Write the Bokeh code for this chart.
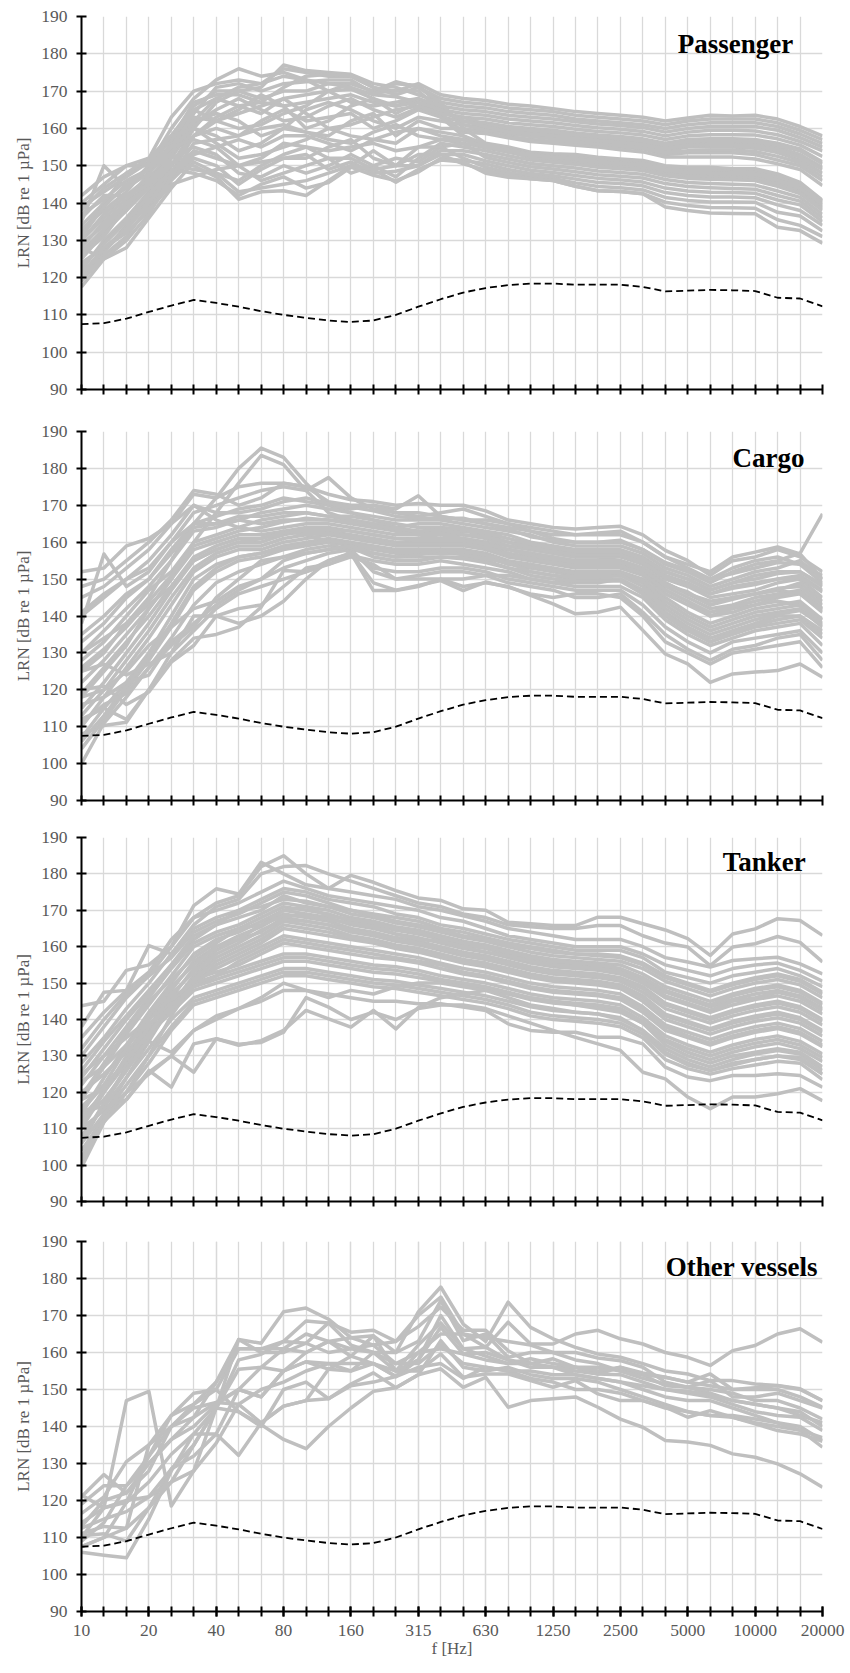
from bokeh.plotting import figure
from bokeh.models import FixedTicker, Range1d, Label, ColumnDataSource
from bokeh.layouts import column
from bokeh.embed import file_html
from bokeh.resources import INLINE

# 1/3-octave band centre frequencies [Hz]
BANDS = ["10", "12.5", "16", "20", "25", "31.5", "40", "50", "63", "80", "100", "125",
         "160", "200", "250", "315", "400", "500", "630", "800", "1000", "1250", "1600",
         "2000", "2500", "3150", "4000", "5000", "6300", "8000", "10000", "12500",
         "16000", "20000"]
LABELED = ["10", "20", "40", "80", "160", "315", "630", "1250", "2500", "5000", "10000", "20000"]
Y_TICKS = [90, 100, 110, 120, 130, 140, 150, 160, 170, 180, 190]

# dashed reference curve (same in all four panels)
REF_LEVEL = [107.5, 107.8, 109.0, 110.8, 112.5, 114.0, 113.2, 112.2, 111.0, 110.0, 109.2, 108.5,
             108.1, 108.5, 110.0, 112.2, 114.2, 116.0, 117.2, 118.0, 118.4, 118.4, 118.1, 118.1,
             118.1, 117.5, 116.3, 116.5, 116.7, 116.6, 116.4, 114.6, 114.4, 112.3]

PASSENGER = [
    [140, 145, 150, 152, 163, 170, 172, 173, 172, 176, 175, 174, 174, 171, 170, 172, 169, 168, 167.5, 166.5, 166, 165.3, 164.5, 164, 163.5, 163, 162, 162.8, 163.5, 163.3, 163.5, 162.5, 160.5, 158],
    [135, 150, 144, 150, 160, 168, 173, 176, 174, 175, 173, 172, 172, 170, 172.5, 171, 168, 167, 166.5, 165.5, 165, 164.5, 163.5, 163, 162.5, 162, 161, 162, 162.5, 162.5, 162.5, 161.5, 159.5, 157],
    [132, 140, 148, 151, 158, 166, 170, 170, 171, 177, 175.5, 175, 174.5, 172, 171, 169, 167, 166, 165.5, 164.5, 164, 163.5, 162.5, 162, 161.5, 161, 160, 161, 161.5, 161.5, 161.5, 160.5, 158.5, 156],
    [128, 135, 140, 148, 156, 165, 168, 166, 164, 168, 169, 170, 172, 170, 172, 171.5, 166, 165, 164.5, 163.5, 163, 162.5, 161.8, 161.2, 160.8, 160.2, 159, 160, 160.5, 160.5, 160.5, 159.5, 157.5, 155],
    [125, 132, 138, 146, 154, 163, 162, 160, 161, 164, 166, 170, 170.5, 168, 166, 168, 165, 164, 163.5, 162.5, 162, 161.5, 160.8, 160.2, 159.8, 159.2, 158, 159, 159.5, 159.5, 159.3, 158.3, 156.5, 154],
    [130, 137, 142, 147, 152, 161, 165, 168, 165, 162, 163, 166, 168, 165, 163, 165.5, 164, 163, 162.5, 161.5, 161, 160.5, 159.8, 159.2, 158.8, 158.2, 157, 158, 158.3, 158.3, 158.2, 157.2, 155.5, 152.5],
    [122, 130, 136, 143, 150, 160, 167, 170, 168, 170, 170, 172, 171, 169, 168.5, 167, 163, 162, 161.5, 160.5, 160, 159.5, 158.8, 158.2, 157.8, 157.2, 156, 157, 157.2, 157.2, 157, 156, 154.5, 151],
    [137, 141, 146, 149, 155, 164, 171, 172, 170, 172, 172.5, 173, 173, 169.5, 170, 170, 165, 162, 161, 159.5, 159, 158.5, 157.8, 157.2, 156.8, 156.2, 155, 156, 156, 156, 155.8, 154.8, 153, 149.5],
    [127, 133, 139, 145, 153, 162, 168, 171, 172, 174, 173, 170, 167, 166, 167, 168, 166, 161, 160, 158.5, 158, 157.5, 156.8, 156.2, 155.8, 155.2, 154, 155, 155, 155, 154.7, 153.5, 151.5, 148],
    [120, 127, 134, 141, 148, 158, 163, 166, 167, 171, 174, 174.5, 174, 171, 169, 171, 167, 160, 159, 157.8, 157, 156.5, 156, 155.5, 155, 154.5, 153, 153.5, 153.5, 153.5, 153, 151.5, 150, 146],
    [133, 138, 143, 150, 157, 167, 169, 169, 167, 166, 167, 168, 169, 167, 166, 167, 164, 159, 158.6, 157.5, 156.5, 156, 155.5, 155, 154.3, 153.7, 152.3, 152.3, 152.3, 152.3, 151.8, 150.5, 149, 144.7],
    [130, 136, 141, 146, 153, 162, 164, 162, 158, 160, 165, 167, 165, 162, 160, 163, 162, 161, 159.5, 158.8, 157.8, 157.2, 156.5, 155.8, 155.4, 154.8, 153.5, 154, 154.2, 154.2, 153.8, 152.5, 150.8, 147],
    [126, 133, 138, 144, 150, 158, 160, 158, 162, 165, 162, 163, 164, 160, 162, 165, 163, 158, 155, 154, 153.2, 152.8, 152.5, 151.8, 151.3, 150.9, 149.6, 149.3, 149.2, 148.8, 148.7, 147.4, 145.2, 140.5],
    [134, 140, 144, 148, 154, 158, 162, 164, 166, 168, 164, 160, 161, 163, 165, 166, 164, 163, 161, 160, 159.5, 159, 158.3, 157.7, 157.3, 156.7, 155.5, 156.5, 156.7, 156.7, 156.5, 155.5, 154, 150.5],
    [139, 143, 147, 151, 158, 165, 162, 165, 169, 166, 160, 162, 166, 168, 164, 167, 165, 162, 160.5, 159, 158.5, 158, 157.3, 156.7, 156.3, 155.7, 154.5, 155.5, 155.6, 155.6, 155.3, 154.2, 152.3, 149],
    [142, 147, 150, 150, 155, 160, 158, 154, 156, 160, 159, 158, 162, 164, 158, 162, 160, 160, 156, 155, 153.6, 153.2, 153, 152.3, 151.8, 151.4, 150, 149.6, 149.6, 149.2, 149.2, 147.8, 145.5, 140.7],
    [138, 144, 148, 152, 158, 160, 156, 152, 153, 155, 157, 160, 158, 157, 156, 160, 158, 157, 155.5, 154.5, 153, 152.5, 152.2, 151.5, 151, 150.6, 149.2, 148.7, 148.7, 148.3, 148.2, 146.8, 144.5, 140],
    [131, 139, 145, 149, 155, 157, 155, 150, 151, 152, 152, 155, 157, 152, 150, 155, 157, 156, 154.8, 153.6, 152.3, 151.8, 151.3, 150.6, 150.2, 149.7, 148.3, 147.7, 147.6, 147.3, 147.2, 145.7, 143.5, 139],
    [121, 127, 133, 140, 147, 153, 155, 157, 155, 158, 158, 156, 154, 157, 159, 160, 159, 158, 155.8, 154.2, 152, 151.5, 151, 150.2, 149.8, 149.3, 147.8, 147.2, 147, 146.8, 146.6, 145, 143, 138.5],
    [126, 131, 139, 146, 152, 155, 153, 148, 147, 150, 148, 150, 153, 150, 147, 152, 156, 155, 154, 152.7, 151.5, 150.9, 150.4, 149.6, 149.2, 148.7, 147.3, 146.6, 146.4, 146.2, 146, 144.5, 142.5, 138],
    [119, 126, 131, 139, 146, 152, 150, 145, 149, 152, 153, 149, 151, 148, 148.5, 150, 154, 154, 153, 151.8, 150.6, 150, 149.4, 148.6, 148.2, 147.7, 146.3, 145.5, 145.2, 145, 144.8, 143.2, 141.5, 137],
    [124, 128, 133, 140, 148, 154, 152, 150, 146, 148, 150, 152, 148, 150, 152, 151, 155, 156, 152.2, 150.9, 149.7, 149.1, 148.4, 147.6, 147.2, 146.7, 145.2, 144.4, 144.1, 143.9, 143.7, 142, 140.5, 136],
    [117.5, 125, 128, 136, 144, 151, 148, 143, 144, 145, 146, 148, 150, 154, 150, 150, 153, 153, 151.3, 150, 148.8, 148.2, 147.4, 146.6, 146.2, 145.6, 144, 143.2, 142.9, 142.8, 142.6, 140.8, 139.5, 135],
    [123, 129, 135, 142, 149, 148, 146, 142, 145, 147, 144, 145.5, 149.6, 147.4, 146, 148.3, 152, 151.4, 150.5, 149, 147.9, 147.3, 146.4, 145.5, 145.2, 144.6, 142.8, 142, 141.6, 141.6, 141.4, 139.5, 138, 134],
    [129, 134, 140, 144, 150, 149, 148, 146, 150, 153, 155, 154, 155, 156, 154, 155, 155, 152, 149.6, 148.2, 147.2, 146.6, 145.4, 144.4, 144.1, 143.5, 141.5, 140.7, 140.3, 140.3, 140.2, 137.5, 136.5, 132.5],
    [121, 128, 132, 138, 145, 147, 149, 150, 152, 156, 155, 152, 152, 149, 150, 153, 153, 150.5, 148.8, 147.5, 146.5, 146, 144.5, 143.3, 143.1, 142.5, 140.2, 139.3, 138.8, 138.7, 138.6, 135.5, 134, 131],
    [136, 142, 142, 145, 151, 150, 147, 141, 143, 143.3, 142, 146, 150, 149, 145.6, 149, 151.5, 151, 148, 146.9, 146.5, 146, 144.5, 143.3, 143.1, 142.5, 138.9, 138, 137.3, 137.2, 137.1, 133.5, 132.6, 129.2],
    [128, 125, 130, 137, 147, 156, 157, 158, 160, 161, 159, 157, 156, 159, 161, 158, 157, 157, 155, 154, 152.8, 152.3, 151.8, 151, 150.6, 150.2, 148.7, 148.2, 148.1, 147.8, 147.7, 146.2, 144, 139.5],
]

CARGO = [
    [125, 130, 138, 145, 155, 165, 172, 180, 185.5, 183, 176, 170, 168, 166, 164, 163, 162, 161, 160, 159, 158, 157, 156, 156, 155, 153, 149, 146, 143, 145, 146, 147, 146, 142],
    [118, 125, 132, 142, 150, 160, 168, 176, 183.5, 181, 174, 168, 166, 165, 163, 162, 161, 160, 159, 158, 157, 156, 155, 155, 154, 152, 147, 144, 140, 142, 143, 144, 143, 139],
    [148, 150, 155, 160, 166, 174, 173, 170, 172, 176, 175, 173, 171.5, 171, 170, 170.5, 170, 170, 168.5, 166, 165, 164, 163.6, 164, 164.3, 162, 157.8, 155, 151, 155, 156, 158, 156, 152],
    [140, 145, 150, 153, 160, 168, 170, 172, 174, 175, 174, 177.5, 172, 169, 168, 167, 168, 169, 167, 165, 163, 162, 162, 162.5, 163, 160, 156, 154, 152, 156, 157.3, 158.7, 156.8, 150],
    [135, 140, 146, 150, 158, 165, 167, 169, 170, 172, 171, 170, 169, 170, 169, 172.6, 167, 166, 165, 164, 163, 161, 160, 160, 160, 158, 154, 152, 149, 152, 154, 155, 157, 167.7],
    [130, 136, 142, 148, 155, 163, 164, 166, 168, 169, 170, 169, 168, 167, 166, 166, 166, 165, 164, 163, 162, 160, 159, 159, 159, 157, 153, 151, 148, 150, 152, 153, 155, 150],
    [145, 148, 153, 158, 165, 170, 166, 164, 166, 167, 168, 167, 166, 165, 164, 165, 165, 164, 163, 162, 160, 159, 158, 158, 158, 156, 152, 150, 147, 149, 151, 152, 152, 148],
    [138, 156.8, 148, 152, 160, 165, 165, 166, 165, 166, 166, 166, 165, 164, 163, 163, 163, 163, 162, 160, 159, 158, 157, 157, 157, 155, 151, 149, 146, 148, 149, 150, 151, 147],
    [128, 133, 140, 147, 152, 160, 162, 164, 163, 164, 165, 165, 164, 163, 162, 162, 162, 162, 161, 159, 158, 157, 156, 156, 156, 154, 150, 148, 145, 146, 147, 149, 150, 145],
    [122, 128, 135, 142, 150, 158, 160, 162, 162, 163, 164, 164, 163, 162, 161, 161, 161, 161, 160, 158, 157, 156, 155, 155, 155, 153, 149, 146, 144, 145, 146, 147, 149, 144],
    [115, 122, 130, 138, 147, 155, 158, 160, 160, 162, 163, 163, 162, 161, 160, 160, 160, 160, 159, 157, 156, 155, 154, 154, 154, 152, 148, 145, 142, 143, 145, 146, 147, 142],
    [110, 118, 126, 134, 143, 152, 156, 158, 158, 160, 161, 162, 161, 160, 159, 159, 159, 159, 158, 156, 155, 154, 153, 153, 153, 151, 146, 143, 140, 141, 143, 145, 146, 141],
    [107, 115, 122, 130, 140, 150, 154, 156, 157, 159, 160, 161, 160, 159, 158, 158, 158, 158, 157, 155, 154, 153, 152, 152, 152, 150, 145, 141, 138, 140, 142, 143, 144, 139],
    [104, 112, 120, 128, 137, 147, 152, 155, 156, 158, 159, 160, 159, 158, 157, 157, 157, 157, 156, 154, 153, 152, 151, 151, 151, 149, 143, 139, 136, 138, 140, 141, 142, 137],
    [100, 111, 118, 126, 134, 143, 149, 152, 154, 156, 158, 159, 158, 157, 156, 156, 156, 156, 155, 153, 152, 151, 150, 150, 150, 147, 141, 137, 134, 136, 138, 140, 140, 135],
    [112, 115, 112, 120, 128, 134, 135, 137, 142.4, 152.3, 152, 154, 156.4, 155, 154, 154, 155, 154, 153, 152, 150, 149, 148, 148, 148, 145, 139, 135, 132, 134, 136, 137, 138, 132],
    [120, 121, 116, 119.4, 127.5, 132, 140, 138, 140, 144, 150, 155, 157, 153, 152, 152, 153, 153, 152, 150, 149, 148, 147, 147, 147, 143, 137, 133, 130, 133, 134, 135, 136, 130],
    [125, 127, 124, 127, 130, 140, 140, 142, 143, 148, 153, 154, 156, 154, 150, 151, 152, 152, 151, 149, 148, 147, 145, 145, 146, 141, 135, 131, 128, 131, 132, 134, 135, 128],
    [118, 120, 125, 132, 137, 142, 144, 148, 150, 153, 155, 157, 158, 152, 150, 150, 150, 148, 149, 148, 145.6, 143.3, 140.6, 141, 142.4, 136.1, 129.7, 127, 122, 124.3, 124.8, 125.2, 127, 123.4],
    [108, 110.3, 111.2, 120, 130, 136, 142, 146, 148, 150, 152, 155, 157, 149, 147, 148.3, 149.6, 146.9, 149.2, 147.8, 146, 145, 146, 146, 145, 140, 133, 130, 127, 130, 131, 132, 133, 126],
    [130, 134, 138, 143, 148, 155, 158, 160, 161, 163, 162, 160, 157, 146.9, 146.9, 148, 150, 150, 151, 151, 150, 149, 149, 149, 150, 146, 140, 136, 133, 135, 137, 138, 139, 134],
    [152, 153, 159, 161, 165, 173, 172, 175, 176, 176, 175, 171, 170, 170, 168, 168, 167, 166, 166, 165, 164, 163, 162, 162, 162, 160, 156, 153, 150, 153, 155, 156, 154, 149],
    [133, 138, 145, 150, 157, 164, 165, 167, 167, 168, 168, 167, 167, 166, 165, 164, 164, 163.5, 162.5, 161, 159.5, 158.5, 157.5, 157.5, 157.5, 155.5, 152, 150, 147, 149, 150, 151.5, 152, 148.5],
    [126, 131, 137, 144, 151, 159, 161, 163, 164, 165.5, 166.5, 166, 165.5, 164.5, 163.5, 163, 163.5, 162, 161.5, 160, 158.5, 157.5, 156.5, 156.5, 156.5, 154.5, 150.5, 148.5, 146, 147.5, 148.5, 150, 150.5, 146.5],
    [119, 126, 133, 140, 148, 156, 159, 161, 161, 162.5, 163.5, 163.5, 163, 162, 161, 160.5, 160.5, 160.5, 159.5, 158, 156.5, 155.5, 154.5, 154.5, 154.5, 152.5, 148.5, 146.5, 143, 144.5, 146, 147.5, 148, 143],
    [113, 120, 128, 136, 145, 153, 157, 159, 159, 161, 162, 162.5, 161.5, 160.5, 159.5, 159.5, 159.5, 159.5, 158.5, 156.5, 155.5, 154.5, 153.5, 153.5, 153.5, 151.5, 147, 144, 141, 142.5, 144, 145.5, 146.5, 141.5],
    [106, 113, 121, 129, 138, 148, 153, 156, 157, 158.5, 159.5, 160.5, 159.5, 158.5, 157.5, 157.5, 157.5, 157.5, 156.5, 154.5, 153.5, 152.5, 151.5, 151.5, 151.5, 149.5, 144, 140, 137, 139, 141, 142, 143, 138],
    [116, 118, 122, 124, 133, 138, 143, 147, 150, 155, 157, 158, 158.5, 156, 155, 155, 156, 155.5, 154.5, 153, 151, 150, 149.5, 149.5, 149.5, 146, 140.5, 136.5, 133, 135.5, 137.5, 139, 140, 136],
    [141, 146, 150, 155, 162, 170, 168, 168, 169, 171, 172, 170.5, 169.5, 168.5, 167, 166.5, 166.5, 166.5, 165, 163.5, 161.5, 160.5, 160, 160, 160.5, 158, 154.5, 152.5, 150, 151.5, 153, 154.5, 154, 151],
    [111, 116, 119, 126, 132, 137, 145, 150, 155, 156, 157, 158, 159, 157, 156, 156.5, 158, 156.5, 155.5, 154.5, 152, 151, 150.5, 150.5, 151, 148, 142, 138, 135, 137, 139, 140.5, 141.5, 137.5],
]

TANKER = [
    [130, 138, 146, 152, 160, 168, 172, 174, 182, 185, 180, 176, 179.6, 177.7, 175.4, 173.4, 172.7, 170.4, 170, 166.7, 166.3, 165.8, 165.8, 168.1, 168.1, 166.3, 164.6, 162.2, 157.6, 163.5, 164.9, 167.7, 167.2, 163.1],
    [128, 135, 143, 150, 158, 166, 171, 173, 180, 182, 182.3, 180, 178, 176, 174, 172, 171, 169, 168, 166, 165.5, 165, 165, 165.8, 165.8, 163, 161, 159.9, 154.8, 159.9, 160.8, 162.8, 161.2, 155.8],
    [143.8, 145, 153.5, 155, 160, 171.3, 175.9, 174.5, 183.2, 180, 177, 176, 175, 174, 173, 171, 170, 168.5, 167, 165, 164, 163, 162, 162, 162, 160, 157, 155.8, 154.4, 156.2, 156.7, 157.1, 155.3, 152.5],
    [138, 147.5, 148, 153, 162, 168, 170, 172, 175, 178, 176, 174, 173, 172, 171, 170, 168, 167, 165, 163, 162, 161, 160, 160, 160, 158, 155, 153.5, 152, 154, 155, 155.5, 153.5, 150.5],
    [135, 142, 148, 160.3, 158, 165, 168, 170, 173, 176, 175, 173, 172, 171, 169, 168, 166, 165, 163.5, 162, 161, 160, 159, 159, 159, 157, 153, 151.5, 150, 152, 153, 154, 152, 149],
    [132, 140, 147, 152, 157, 164, 167, 169, 172, 175, 174, 172, 170, 169, 168, 167, 165, 164, 162.5, 161, 160, 159, 158, 158, 157.5, 155.5, 152, 150, 148, 150, 151.5, 152.5, 151, 147.5],
    [126, 134, 141, 148, 155, 162, 166, 168, 170, 174, 172, 171, 169, 168, 166.5, 165.5, 164, 162.5, 161.5, 160, 158.5, 157.5, 157, 156.5, 156, 154, 150.5, 148.5, 146.5, 148.5, 150, 151, 149.5, 146],
    [122, 130, 138, 146, 154, 161, 164, 166, 169, 172, 171, 170, 168, 167, 165.5, 164.5, 163, 161.5, 160.5, 159, 157.5, 156.5, 156, 155.5, 155, 152.5, 149, 147, 145, 147, 148.5, 149.5, 148, 144.5],
    [118, 127, 136, 144, 152, 160, 163, 165, 168, 171, 170, 169, 167, 166, 164.5, 163.5, 162, 160.5, 159.5, 158, 156.5, 155.5, 155, 154.5, 153.5, 151, 147.5, 145.5, 143.5, 145.5, 147, 148, 146.5, 143],
    [114, 124, 133, 142, 150, 158, 162, 164, 167, 170, 169, 168, 166, 165, 163.5, 162.5, 161, 159.5, 158.5, 157, 155.5, 154.5, 154, 153.5, 152.5, 150, 146, 144, 142, 144, 145.5, 146.5, 145, 141.5],
    [110, 120, 130, 140, 148, 156, 160, 163, 165.5, 169, 168, 167, 165, 164, 162.5, 161.5, 160, 158.5, 157.5, 156, 154.5, 153.5, 153, 152.5, 151.5, 149, 144.5, 142.5, 140.5, 142.5, 144, 145, 143.5, 140],
    [106, 117, 127, 137, 146, 154, 159, 162, 164, 168, 167, 166, 164, 163, 161.5, 160.5, 159, 157.5, 156.5, 155, 153.5, 152.5, 152, 151.5, 150.5, 147.5, 143, 141, 139, 141, 142.5, 143.5, 142, 138.5],
    [102, 114, 124, 134, 144, 152, 157, 160, 163, 167, 166, 165, 163, 162, 160.5, 159.5, 158, 156.5, 155.5, 154, 152.5, 151.5, 151, 150.5, 149.5, 146.5, 141.5, 139.5, 137.5, 139.5, 141, 142, 140.5, 137],
    [99.4, 111.8, 120, 130, 141, 150, 155, 158, 161, 165, 164, 163, 162, 161, 159.5, 158.5, 157, 155.5, 154.5, 153, 151.5, 150.5, 150, 149.5, 148.5, 145, 140, 138, 136, 138, 139.5, 140.5, 139, 135.5],
    [112, 118, 126, 135, 143, 150, 154, 157, 160, 163, 162, 161, 160, 159, 158, 157, 155.5, 154, 153, 151.5, 150, 149, 148.5, 148, 147, 143.5, 138.5, 136.5, 134.5, 136.5, 138, 139, 137.5, 134],
    [120, 125, 131, 138, 145, 151, 153, 155, 158, 161, 160, 159, 158, 157, 156.5, 155.5, 154, 152.5, 151.5, 150, 148.5, 147.5, 147, 146.5, 145.5, 142, 137, 135, 133, 135, 136.5, 137.5, 136, 132.5],
    [125, 130, 135, 140, 146, 150, 152, 154, 156, 158, 158, 157, 156, 155, 154.5, 153.5, 152, 151, 150, 148.5, 147, 146, 145.5, 145, 144, 140.5, 135.5, 133, 131, 133, 134.5, 135.5, 134, 130.5],
    [116, 122, 128, 136, 142, 148, 150, 152, 154, 156, 156, 155, 154, 153, 152.5, 151.5, 150.5, 149.5, 148.5, 147, 145.5, 144.5, 144, 143.5, 142.5, 139, 134, 131, 129, 131, 132.5, 133.5, 132, 128.5],
    [108, 116, 124, 132, 140, 146, 148, 150, 152, 154, 154, 153, 152, 151, 150.5, 149.5, 148.5, 147.5, 146.5, 145, 143.5, 142.5, 142, 141.5, 140.5, 137, 132, 129, 127, 129, 130.5, 131.5, 130.5, 126],
    [104, 113, 120, 128, 137, 144, 146, 148, 150, 152, 152, 151, 150, 149, 148.5, 147.5, 146.5, 145.5, 144.5, 143, 141, 140, 139.5, 139, 138, 135, 129, 126.5, 125, 126.5, 127.5, 128.5, 128, 123.5],
    [101, 112, 118, 125.5, 130, 137, 141, 143, 145, 148, 148, 147, 146, 145, 145, 144.3, 144.3, 143.4, 142.5, 138.8, 137, 136.5, 136.5, 135.1, 135.1, 133.3, 126.9, 124.2, 123.2, 124.6, 124.6, 125.1, 124.6, 121.4],
    [115, 116, 118, 126, 121.4, 133.3, 134.7, 133.2, 133.7, 136.5, 146, 143.4, 140, 142, 140, 143, 144, 144, 143, 141, 139, 137, 135.1, 133.3, 131.5, 125.5, 123.7, 118.7, 115.5, 118.7, 118.7, 119.6, 121, 117.7],
    [110, 115, 120, 125, 130, 125.5, 134.7, 132.9, 134.2, 137, 142.5, 140.2, 137.9, 142.5, 137.4, 143.3, 146, 147, 148, 147, 146, 145, 144, 143, 142, 139, 133, 130, 128, 130, 131, 132, 131, 127],
    [113, 120, 128, 134, 131, 137, 140, 143, 146, 150, 148, 146, 148, 147, 149, 150, 150, 149, 148, 146, 144, 143, 142, 141.5, 140, 137, 131, 128, 126, 128, 129, 130, 129.5, 125],
    [124, 132, 140, 147, 155, 163, 166, 170, 171, 173, 172.5, 171, 170, 168.5, 167, 166, 164.5, 163, 162, 160.5, 159.5, 158.5, 158, 157.5, 157, 155, 151.5, 149.5, 147.5, 149.5, 151, 152, 150.5, 147],
    [119, 128, 137, 145, 151, 157, 161, 165, 166, 170, 171, 168.5, 167.5, 166.5, 165, 164, 162.5, 161, 160, 158.5, 157, 156, 155.5, 155, 154, 151.5, 148, 146, 144, 146.5, 148, 149, 147.5, 144],
    [115, 122, 132, 141, 149, 155, 160, 162, 166, 168.5, 168.5, 167.5, 166.5, 165.5, 163.5, 162, 161.5, 160, 158.5, 157.5, 156, 155, 154.5, 154, 153, 150.5, 146.5, 144.5, 142.5, 145, 146, 147.5, 146, 142.5],
    [111, 121, 129, 138, 147, 153, 158, 161, 164.5, 167.5, 167, 166, 164.5, 163.5, 162, 161, 159.5, 158, 157, 155.5, 154, 153, 152.5, 152, 151, 148.5, 144, 142, 140, 142, 143.5, 144.5, 143, 139.5],
    [107, 117, 126, 135, 144, 151, 156, 159, 162, 166, 165, 164, 162.5, 161.5, 160, 159, 157.5, 156, 155, 153.5, 152, 151, 150.5, 150, 149, 146, 141, 139, 137, 139, 140.5, 141.5, 140, 136.5],
    [118, 121, 129, 136, 144, 149, 152, 156, 159, 162, 161, 160, 159, 158, 157, 156, 155, 153, 152, 150.5, 149, 148, 147.5, 147, 146, 143, 138, 135.5, 133.5, 135.5, 137, 138, 136.5, 133],
    [123, 127, 133, 139, 143, 149, 151, 153, 155, 157, 157, 156, 155, 154, 153.5, 152.5, 151, 150, 149, 147.5, 146, 145, 144.5, 144, 143, 139.5, 134.5, 132, 130, 132, 133.5, 134.5, 133, 129.5],
    [106, 114, 122, 130, 138, 145, 147, 149, 151, 153, 153, 152, 151, 150, 149.5, 148.5, 147.5, 146.5, 145.5, 144, 142, 141, 140.5, 140, 139, 136, 130.5, 127.5, 126, 127.5, 129, 130, 129, 125],
]

OTHER = [
    [121, 127, 122, 130, 136.5, 142.5, 146.5, 150, 148, 155, 160, 163, 161, 160, 160, 171, 177.7, 167.7, 163, 173.6, 166.8, 163.7, 161.4, 159.6, 158.7, 157, 155, 154.2, 152.4, 152.4, 151.5, 151.1, 150.2, 147],
    [119, 124, 124, 132, 140, 146, 152, 163.5, 162.5, 171, 172, 169, 164, 162, 163, 170, 175, 165, 161.4, 168.2, 162.3, 162.3, 165, 166, 163.7, 162.3, 160, 158.7, 156.5, 160.5, 161.9, 165, 166.4, 162.8],
    [116.5, 121, 130.5, 135, 143, 146, 150, 161, 161, 163, 168.5, 168, 165.5, 166, 163, 167, 172.3, 166, 166, 160.5, 157, 158.3, 156, 154.2, 156, 154, 153.3, 152, 154.2, 150, 150, 150, 148, 145.2],
    [114, 118, 119.5, 125, 132.5, 138, 145, 155.5, 156, 161, 165, 163, 164, 164.5, 160, 163, 174, 163.2, 165, 158.7, 160, 160, 160, 158.5, 157.8, 156, 152, 150.6, 152.4, 148, 148, 149, 147, 145],
    [112.5, 115, 117, 121, 128.5, 135, 145, 158, 159.5, 163, 162.5, 160, 161, 162, 157, 160, 165, 165, 164, 163, 162, 160, 158, 157, 155, 154, 151, 150.6, 150, 149, 147, 147, 145, 142],
    [111, 113, 112.5, 135, 140, 145, 146.5, 146, 141, 145.5, 147, 155.5, 159, 164.5, 155, 158, 170, 161, 161.4, 158, 157, 156, 155, 154.2, 154, 152, 150, 149, 148, 146, 144, 143, 142.5, 138.9],
    [110.5, 111, 109, 118, 128.5, 132, 138, 150, 148, 155, 157.5, 157, 155, 157, 153.5, 158, 166.8, 159.6, 158, 157, 157, 156, 154, 153, 152, 150, 148, 147, 147, 145, 143, 141, 140, 136.2],
    [110, 118, 120, 121, 125, 128, 145, 144, 140, 150, 152, 147.5, 151.5, 154.5, 150.5, 154, 163.2, 156, 155, 156, 154, 153, 153, 152, 150, 148, 146, 144, 143, 142.5, 141, 140, 139, 134.4],
    [107.5, 110, 112.5, 118, 125, 135, 145, 163.5, 160, 160, 162.5, 168, 162, 160, 155, 155, 159.6, 153.3, 154.2, 154.2, 152.4, 150.6, 152.4, 148.8, 147, 147, 145.2, 142.5, 144.3, 142.5, 140.7, 138.9, 138, 136],
    [107.5, 110, 119.5, 132, 143, 149, 150, 144, 140.5, 136.5, 134, 140, 145, 149.5, 150.5, 154, 155.6, 150.6, 153.3, 145.2, 147, 147.5, 148, 145.2, 142, 139.8, 136.2, 135.8, 134.9, 132.6, 131.7, 129.9, 127.2, 123.6],
    [106, 105.2, 104.5, 115, 128, 138, 138, 132.2, 141, 145.5, 147, 147.5, 151, 152, 153.5, 156, 157, 153, 156, 155, 153, 152, 150, 150, 149, 147, 145, 144, 143, 143, 142, 141, 139, 137],
    [121.5, 118, 147, 149.5, 118.5, 128, 135.5, 146, 150, 152, 155, 157, 157, 157, 153.5, 160, 161, 159.6, 160, 158, 156, 156, 156, 156, 155, 153, 151.5, 150.6, 149, 147, 146, 145, 143, 141],
    [113, 120, 122, 128, 140, 142.5, 152, 161, 161, 161, 160, 163, 159, 157, 155, 162, 168, 161, 159, 157, 158.3, 157, 156, 155, 156, 154.5, 153.3, 152, 151, 150, 150.5, 151, 150, 147],
    [109, 114, 124, 130, 136.5, 140, 146, 150, 156, 155, 157.5, 155.5, 155, 160, 157, 157, 162, 157, 156, 155, 155, 154, 154, 153, 152, 151, 150, 149.5, 148.5, 147, 146, 145, 144, 140],
]

FONT = "Liberation Serif"
TEXT_GRAY = "#595959"
LINE_GRAY = "#bfbfbf"
GRID_GRAY = "#d9d9d9"

X = list(range(len(BANDS)))
LABEL_POS = [i for i, b in enumerate(BANDS) if b in LABELED]
LABEL_TEXT = {i: BANDS[i] for i in LABEL_POS}


def make_panel(name, lines, height, top, bottom, left, right, tx, ty, last):
    for ln in lines:
        assert len(ln) == len(BANDS), (name, len(ln))
    p = figure(width=848, height=height, output_backend="svg", toolbar_location=None,
               x_range=Range1d(0, len(BANDS) - 1), y_range=Range1d(90, 190),
               min_border_left=left, min_border_right=right,
               min_border_top=top, min_border_bottom=bottom)
    p.outline_line_color = None
    p.background_fill_color = "white"
    p.border_fill_color = "white"

    src = ColumnDataSource(dict(xs=[X] * len(lines), ys=lines))
    p.multi_line("xs", "ys", source=src, line_color=LINE_GRAY, line_width=3.5,
                 line_join="round")
    p.line(X, REF_LEVEL, line_color="black", line_width=1.8, line_dash="7 4")

    if last:
        p.xaxis.ticker = FixedTicker(ticks=LABEL_POS, minor_ticks=X)
        p.xaxis.major_label_overrides = LABEL_TEXT
    else:
        p.xaxis.ticker = FixedTicker(ticks=[], minor_ticks=X)
    p.yaxis.ticker = FixedTicker(ticks=Y_TICKS)

    for ax in (p.xaxis[0], p.yaxis[0]):
        ax.axis_line_color = "black"
        ax.axis_line_width = 2
        ax.major_tick_line_color = "black"
        ax.major_tick_line_width = 2
        ax.major_tick_in = 5
        ax.major_tick_out = 5
        ax.minor_tick_line_color = "black"
        ax.minor_tick_line_width = 2
        ax.minor_tick_in = 5
        ax.minor_tick_out = 5
        ax.major_label_text_font = FONT
        ax.major_label_text_font_size = "17.5px"
        ax.major_label_text_color = TEXT_GRAY
        ax.axis_label_text_font = FONT
        ax.axis_label_text_font_size = "17px"
        ax.axis_label_text_font_style = "normal"
        ax.axis_label_text_color = TEXT_GRAY
    p.yaxis.minor_tick_line_color = None

    p.yaxis.axis_label = "LRN [dB re 1 µPa]"
    p.yaxis.major_label_standoff = 9
    p.yaxis.axis_label_standoff = 5

    if last:
        p.xaxis.axis_label = "f [Hz]"
        p.xaxis.major_label_standoff = 8
        p.xaxis.axis_label_standoff = 0

    p.xgrid.grid_line_color = GRID_GRAY
    p.xgrid.minor_grid_line_color = GRID_GRAY
    p.ygrid.grid_line_color = GRID_GRAY
    p.xgrid.grid_line_width = 1.3
    p.xgrid.minor_grid_line_width = 1.3
    p.ygrid.grid_line_width = 1.3

    p.add_layout(Label(x=tx, y=ty, text=name, text_font=FONT, text_font_size="27px",
                       text_font_style="bold", text_color="black", text_align="right",
                       text_baseline="alphabetic"))
    return p


p1 = make_panel("Passenger", PASSENGER, 420, 16, 31, 81, 26, 31.7, 182.5, False)
p2 = make_panel("Cargo", CARGO, 406, 11, 26, 81, 26, 32.2, 182.7, False)
p3 = make_panel("Tanker", TANKER, 402, 11, 27, 74, 23, 32.25, 183.4, False)
p4 = make_panel("Other vessels", OTHER, 433, 13, 50, 78, 25, 32.8, 183.2, True)

layout = column(p1, p2, p3, p4, spacing=0)

with open("out.html", "w", encoding="utf-8") as f:
    f.write(file_html(layout, INLINE))
